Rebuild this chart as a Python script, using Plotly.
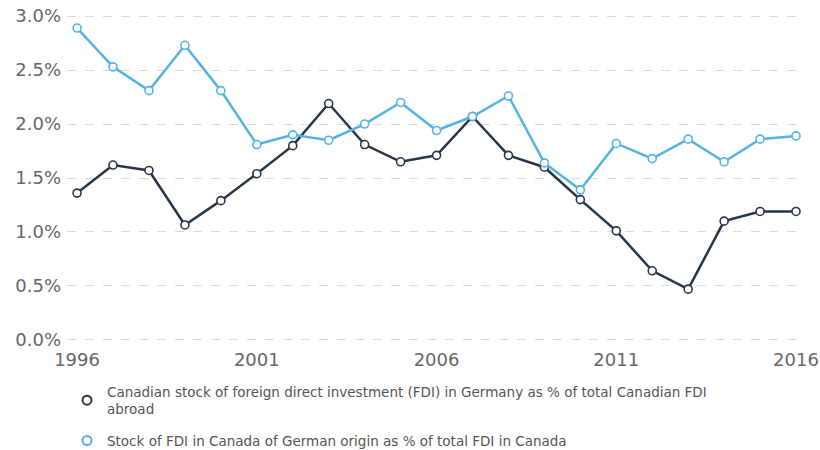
import plotly.graph_objects as go

years = list(range(1996, 2017))
canada_in_germany = [1.36, 1.62, 1.57, 1.065, 1.29, 1.54, 1.80, 2.19, 1.81, 1.65, 1.71,
                     2.07, 1.71, 1.60, 1.30, 1.01, 0.64, 0.47, 1.10, 1.19, 1.19]
germany_in_canada = [2.89, 2.53, 2.31, 2.73, 2.31, 1.81, 1.90, 1.85, 2.00, 2.20, 1.94,
                     2.07, 2.26, 1.64, 1.39, 1.82, 1.68, 1.86, 1.65, 1.86, 1.89]
series_names = [
    "Canadian stock of foreign direct investment (FDI) in Germany as % of total Canadian FDI<br>abroad",
    "Stock of FDI in Canada of German origin as % of total FDI in Canada",
]
y_ticks = [0, 0.5, 1.0, 1.5, 2.0, 2.5, 3.0]
y_tick_labels = ["0.0%", "0.5%", "1.0%", "1.5%", "2.0%", "2.5%", "3.0%"]
x_ticks = [1996, 2001, 2006, 2011, 2016]

dark = "#263548"
light = "#55b2e4"

fig = go.Figure()
for i, (vals, name, col) in enumerate([(canada_in_germany, series_names[0], dark),
                                        (germany_in_canada, series_names[1], light)]):
    fig.add_trace(go.Scatter(
        x=years, y=vals, name=name, mode="lines+markers", showlegend=False,
        legendgroup=f"g{i}",
        line=dict(color=col, width=2.5),
        marker=dict(symbol="circle", size=8, color="white", line=dict(color=col, width=1.6)),
    ))
    # legend-only entry (marker icon like the reference)
    fig.add_trace(go.Scatter(
        x=[None], y=[None], name=name, mode="markers", legendgroup=f"g{i}",
        marker=dict(symbol="circle", size=9, color="white", line=dict(color=col, width=2)),
    ))

fig.update_layout(
    width=820, height=450,
    margin=dict(l=67, r=15, t=14, b=108, autoexpand=False),
    paper_bgcolor="white", plot_bgcolor="white",
    font=dict(family="DejaVu Sans", color="#666666"),
    showlegend=True,
    legend=dict(
        orientation="v", x=0.0, xanchor="left", y=-0.104, yanchor="top",
        font=dict(size=13.5, color="#555555"), tracegroupgap=11,
        itemwidth=30,
    ),
    xaxis=dict(
        range=[1995.72, 2016.25], tickvals=x_ticks, ticktext=[str(v) for v in x_ticks],
        showgrid=False, zeroline=False, showline=False, ticks="",
        ticklabelstandoff=5,
        tickfont=dict(size=18, color="#666666"),
    ),
    yaxis=dict(
        range=[-0.02, 3.02], tickvals=y_ticks, ticktext=y_tick_labels,
        showgrid=True, gridcolor="#d9d9d9", griddash="dash", gridwidth=1,
        zeroline=False, showline=False, ticks="", ticklabelstandoff=5,
        tickfont=dict(size=18, color="#666666"),
    ),
)

fig.write_html("out.html")
